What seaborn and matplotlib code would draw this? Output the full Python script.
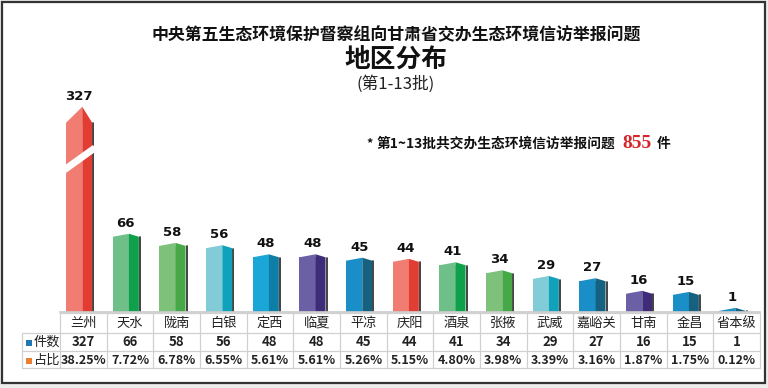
import matplotlib
matplotlib.use("Agg")
import matplotlib.pyplot as plt
from matplotlib.patches import Polygon, Rectangle
from matplotlib.lines import Line2D
import seaborn as sns
import pandas as pd

# data
regions = ["兰州", "天水", "陇南", "白银", "定西", "临夏", "平凉", "庆阳",
           "酒泉", "张掖", "武威", "嘉峪关", "甘南", "金昌", "省本级"]
counts = [327, 66, 58, 56, 48, 48, 45, 44, 41, 34, 29, 27, 16, 15, 1]
shares = ["38.25%", "7.72%", "6.78%", "6.55%", "5.61%", "5.61%", "5.26%", "5.15%",
          "4.80%", "3.98%", "3.39%", "3.16%", "1.87%", "1.75%", "0.12%"]
total = 855
# broken axis: the 兰州 bar is drawn shortened
break_cap = 166

front = ["#F07C72", "#6FBF88", "#7DC17B", "#82CCD8", "#1AA6D6", "#6B5FA6", "#1A8EC6",
         "#F07C72", "#6FBF88", "#7DC17B", "#82CCD8", "#1A8EC6", "#6B5FA6", "#1A8EC6", "#1A8EC6"]
side = ["#E23D33", "#0EA04B", "#46A846", "#10A2BB", "#0F7EA6", "#3F2C78", "#15617F",
        "#E23D33", "#0EA04B", "#46A846", "#10A2BB", "#15617F", "#3F2C78", "#15617F", "#15617F"]

sns.set_theme(style="white")
plt.rcParams['font.family'] = ['Noto Sans CJK SC', 'DejaVu Sans']

W, H = 768, 388
fig = plt.figure(figsize=(W / 100, H / 100), dpi=100)
fig.patch.set_facecolor("#EDEDED")

# white card with dark border
fig.patches.append(Rectangle((2 / W, 1 - 383 / H), 763 / W, 381 / H, transform=fig.transFigure,
                             facecolor="white", edgecolor="#333333", linewidth=1.6, zorder=-5))

ax = fig.add_axes([60 / W, 1 - 312 / H, 700 / W, 232 / H])
ax.set_facecolor("none")
ax.set_zorder(3)

df = pd.DataFrame({"region": regions, "count": counts})
df["shown"] = df["count"].clip(upper=break_cap)

sns.barplot(data=df, x="region", y="shown", hue="region", palette=front, legend=False,
            width=0.56, saturation=1, linewidth=0, ax=ax, zorder=2)
ax.set_xlim(-0.5, len(regions) - 0.5)
ax.set_ylim(0, 203.5)

for i, p in enumerate(list(ax.patches)):
    # bars sit a little left of the column centre in the original
    p.set_x(p.get_x() - 0.09)
    x0 = p.get_x()
    w = p.get_width()
    h = p.get_height()
    xm = x0 + w * 0.62
    x1 = x0 + w
    d = 14 if counts[i] > break_cap else 2.6
    p.set_width(xm - x0)
    # ridge on top of the front face
    ax.add_patch(Polygon([(x0, h), (xm, h + d), (xm, h - 0.3), (x0, h - 0.3)], closed=True,
                         facecolor=front[i], edgecolor="none", zorder=2))
    # side face
    ax.add_patch(Polygon([(xm, 0), (xm, h + d), (x1, h), (x1, 0)], closed=True,
                         facecolor=side[i], edgecolor="none", zorder=2))
    ax.add_line(Line2D([x1 + 0.025, x1 + 0.025], [0, h - 0.5], color="#222222",
                       linewidth=1.2, zorder=1))
    ax.text(x0 + w / 2, h + d + 3.5, str(counts[i]), ha="center", va="bottom",
            fontsize=9.5, fontweight="bold", family="DejaVu Sans", color="#111111", zorder=3)
    if counts[i] > break_cap:
        ax.plot([x0 - 0.06, x1 + 0.06], [124, 144], color="white", linewidth=5,
                solid_capstyle="butt", zorder=4)

ax.set_xticks([])
ax.set_yticks([])
ax.set_xlabel("")
ax.set_ylabel("")
for s in ["top", "right", "left"]:
    ax.spines[s].set_visible(False)
ax.spines["bottom"].set_color("#CCCCCC")

# data table under the bars
grid = "#D0D0D0"
col_w = 700 / len(regions)
def fx(px):
    return px / W
def fy(py):
    return 1 - py / H

rows_y = [313, 333, 351, 368]
for k, yy in enumerate(rows_y):
    xs = 60 if k == 0 else 22
    fig.add_artist(Line2D([fx(xs), fx(760)], [fy(yy), fy(yy)], color=grid, linewidth=0.9))
for k in range(len(regions) + 1):
    xx = 60 + k * col_w
    fig.add_artist(Line2D([fx(xx), fx(xx)], [fy(313), fy(368)], color=grid, linewidth=0.9))
fig.add_artist(Line2D([fx(22), fx(22)], [fy(333), fy(368)], color=grid, linewidth=0.9))

for i, name in enumerate(regions):
    cx = fx(60 + (i + 0.5) * col_w)
    fig.text(cx, fy(323), name, ha="center", va="center", fontsize=9.5, color="#222222")
    fig.text(cx, fy(342.5), str(counts[i]), ha="center", va="center", fontsize=9.5,
             fontweight="heavy" if i == 0 else "bold", color="#222222")
    fig.text(cx, fy(360), shares[i], ha="center", va="center", fontsize=9,
             fontweight="bold", color="#222222")

fig.patches.append(Rectangle((fx(26), fy(346)), 6 / W, 6 / H, transform=fig.transFigure,
                             facecolor="#1F77B4", edgecolor="none"))
fig.text(fx(34), fy(342.5), "件数", ha="left", va="center", fontsize=9.5, color="#222222")
fig.patches.append(Rectangle((fx(26), fy(363.5)), 6 / W, 6 / H, transform=fig.transFigure,
                             facecolor="#ED7D31", edgecolor="none"))
fig.text(fx(34), fy(360), "占比", ha="left", va="center", fontsize=9.5, color="#222222")

# titles
fig.text(fx(396), fy(35), "中央第五生态环境保护督察组向甘肃省交办生态环境信访举报问题",
         ha="center", va="center", fontsize=12.2, fontweight="bold", color="#111111")
fig.text(fx(396), fy(59), "地区分布", ha="center", va="center", fontsize=18.5,
         fontweight="bold", color="#111111")
fig.text(fx(396), fy(84), "(第1-13批)", ha="center", va="center", fontsize=12,
         color="#222222")

# total note
fig.text(fx(366), fy(144), "*", ha="left", va="center", fontsize=9, fontweight="bold",
         color="#111111")
fig.text(fx(377), fy(144), "第1~13批共交办生态环境信访举报问题", ha="left", va="center",
         fontsize=9.9, fontweight="bold", color="#111111")
fig.text(fx(622), fy(143), str(total), ha="left", va="center", fontsize=14,
         fontweight="bold", family="Liberation Serif", color="#D7262B")
fig.text(fx(657), fy(144), "件", ha="left", va="center", fontsize=9.9,
         fontweight="bold", color="#111111")

fig.savefig("out.png", dpi=100)
